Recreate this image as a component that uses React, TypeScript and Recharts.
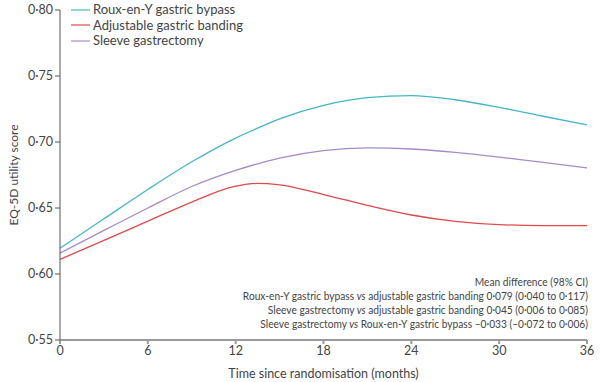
import React from "react";
import { LineChart, Line, XAxis, YAxis, Label } from "recharts";

const months = [0, 3, 6, 9, 12, 13.5, 15, 18, 21, 24, 27, 30, 33, 36];
const bypass = [0.6195, 0.6418, 0.664, 0.685, 0.703, 0.7105, 0.7175, 0.7278, 0.7336, 0.7352, 0.732, 0.7262, 0.7195, 0.7129];
const banding = [0.6111, 0.6255, 0.64, 0.6545, 0.6665, 0.6686, 0.6675, 0.6602, 0.652, 0.6447, 0.6399, 0.6374, 0.6367, 0.6367];
const sleeve = [0.6158, 0.633, 0.65, 0.6663, 0.6785, 0.6835, 0.6878, 0.6935, 0.6955, 0.6947, 0.6922, 0.6886, 0.6846, 0.6803];

const yTicks = [0.55, 0.6, 0.65, 0.7, 0.75, 0.8];
const xTicks = [0, 6, 12, 18, 24, 30, 36];

const series = [
  { key: "bypass", name: "Roux-en-Y gastric bypass", color: "#45b6c4" },
  { key: "banding", name: "Adjustable gastric banding", color: "#e2484c" },
  { key: "sleeve", name: "Sleeve gastrectomy", color: "#a68cc6" },
];

const notes: [string, string, string][] = [
  ["Mean difference (98% CI)", "", ""],
  ["Roux-en-Y gastric bypass ", "adjustable gastric banding 0·079 (0·040 to 0·117)", "vs"],
  ["Sleeve gastrectomy ", "adjustable gastric banding 0·045 (0·006 to 0·085)", "vs"],
  ["Sleeve gastrectomy ", "Roux-en-Y gastric bypass –0·033 (–0·072 to 0·006)", "vs"],
];

const data = months.map((m, i) => ({
  month: m,
  bypass: bypass[i],
  banding: banding[i],
  sleeve: sleeve[i],
}));

const font = "Lato, 'Open Sans', sans-serif";
const fmt = (v: number) => v.toFixed(2).replace(".", "·");

export default function App() {
  return (
    <div style={{ position: "absolute", left: 0, top: 0, width: 600, height: 382, background: "#fff", fontFamily: font }}>
      <LineChart width={600} height={382} data={data} margin={{ top: 10, right: 13, left: 0, bottom: 0 }}>
        <XAxis
          dataKey="month"
          type="number"
          domain={[0, 36]}
          ticks={xTicks}
          stroke="#9a9a9a"
          strokeWidth={2}
          tickSize={4}
          height={42}
          tick={{ fontSize: 12.5, fill: "#444", fontFamily: font }}
        >
          <Label value="Time since randomisation (months)" position="insideBottom" offset={4} style={{ fontSize: 12.5, fill: "#444", fontFamily: font }} />
        </XAxis>
        <YAxis
          type="number"
          domain={[0.55, 0.8]}
          ticks={yTicks}
          tickFormatter={fmt}
          width={60}
          stroke="#555"
          tickSize={5}
          tick={{ fontSize: 12.5, fill: "#444", fontFamily: font }}
        >
          <Label value="EQ-5D utility score" angle={-90} position="insideLeft" offset={14} style={{ fontSize: 12, fill: "#444", fontFamily: font, textAnchor: "middle" }} />
        </YAxis>
        {series.map((s) => (
          <Line key={s.key} dataKey={s.key} type="monotone" stroke={s.color} strokeWidth={1.3} dot={false} isAnimationActive={false} />
        ))}
      </LineChart>
      {/* legend, top left inside the plot */}
      <div style={{ position: "absolute", left: 71, top: 2, fontSize: 13, color: "#444", lineHeight: "15.5px" }}>
        {series.map((s) => (
          <div key={s.key} style={{ display: "flex", alignItems: "center" }}>
            <svg width={22} height={4} style={{ display: "block" }}>
              <line x1={0} x2={19} y1={2} y2={2} stroke={s.color} strokeWidth={1.2} />
            </svg>
            {s.name}
          </div>
        ))}
      </div>
      <div style={{ position: "absolute", right: 12, top: 275, fontSize: 11.5, color: "#444", lineHeight: "14px", textAlign: "right", whiteSpace: "nowrap", transform: "scaleX(0.885)", transformOrigin: "right top" }}>
        {notes.map((n, i) => (
          <div key={i}>
            {n[0]}
            {n[2] && <i>{n[2]}</i>}
            {n[2] ? " " + n[1] : n[1]}
          </div>
        ))}
      </div>
    </div>
  );
}
